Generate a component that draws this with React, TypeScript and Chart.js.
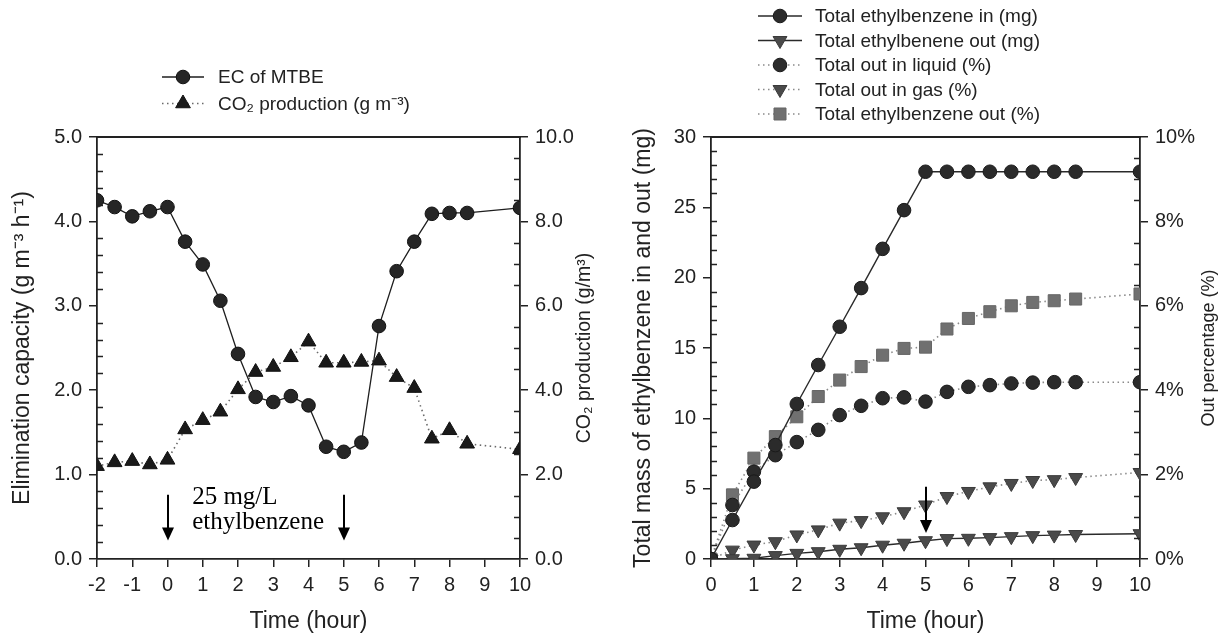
import React, { useEffect, useRef } from "react";
import { Chart, registerables } from "chart.js";
import { drawPoint } from "chart.js/helpers";

Chart.register(...registerables);

const FONT = "'Liberation Sans', Arial, Helvetica, sans-serif";
const SERIF = "'Liberation Serif', 'Times New Roman', serif";
const INK = "#222222";

// ---------- Left panel data ----------
const leftTime = [-2, -1.5, -1, -0.5, 0, 0.5, 1, 1.5, 2, 2.5, 3, 3.5, 4, 4.5, 5, 5.5, 6, 6.5, 7, 7.5, 8, 8.5, 10];
const ecMTBE = [4.25, 4.17, 4.06, 4.12, 4.17, 3.76, 3.49, 3.06, 2.43, 1.92, 1.86, 1.93, 1.82, 1.33, 1.27, 1.38, 2.76, 3.41, 3.76, 4.09, 4.1, 4.1, 4.16];
const co2Production = [2.2, 2.29, 2.32, 2.24, 2.35, 3.07, 3.29, 3.49, 4.02, 4.43, 4.55, 4.78, 5.15, 4.65, 4.65, 4.67, 4.7, 4.31, 4.05, 2.85, 3.05, 2.73, 2.6];
const leftLabels = ["EC of MTBE", "CO\u2082 production (g m\u207B\u00B3)"];
const feedArrowTimes = [0, 5];
const feedNote = ["25 mg/L", "ethylbenzene"];

// ---------- Right panel data ----------
const rightTime = [0, 0.5, 1, 1.5, 2, 2.5, 3, 3.5, 4, 4.5, 5, 5.5, 6, 6.5, 7, 7.5, 8, 8.5, 10];
const totalInMg = [0, 2.77, 5.5, 8.1, 11.02, 13.79, 16.51, 19.26, 22.05, 24.8, 27.53, 27.53, 27.53, 27.53, 27.53, 27.53, 27.53, 27.53, 27.53];
const totalOutMg = [0, 0.02, 0.05, 0.24, 0.4, 0.52, 0.69, 0.8, 0.98, 1.12, 1.3, 1.45, 1.47, 1.52, 1.59, 1.66, 1.7, 1.74, 1.8];
const outLiquidPct = [0, 1.28, 2.07, 2.46, 2.77, 3.06, 3.41, 3.63, 3.81, 3.83, 3.73, 3.96, 4.08, 4.12, 4.16, 4.18, 4.19, 4.19, 4.19];
const outGasPct = [0, 0.21, 0.33, 0.41, 0.57, 0.69, 0.85, 0.91, 1.0, 1.12, 1.28, 1.48, 1.6, 1.71, 1.79, 1.86, 1.88, 1.93, 2.05];
const outTotalPct = [0, 1.52, 2.39, 2.9, 3.37, 3.85, 4.24, 4.56, 4.83, 4.99, 5.02, 5.45, 5.7, 5.86, 6.0, 6.08, 6.12, 6.16, 6.28];
const rightLabels = [
  "Total ethylbenzene in (mg)",
  "Total ethylbenene out (mg)",
  "Total out in liquid (%)",
  "Total out in gas (%)",
  "Total ethylbenzene out (%)",
];
const rightArrowTime = 5;

const pts = (xs: number[], ys: number[]) => xs.map((x, i) => ({ x, y: ys[i] }));

// ---------- plugins ----------
const framePlugin = {
  id: "frameMinor",
  afterDraw(chart: any, _args: any, opts: any) {
    const { ctx, chartArea } = chart;
    ctx.save();
    ctx.strokeStyle = INK;
    ctx.lineWidth = 1.8;
    ctx.beginPath();
    ctx.moveTo(chartArea.left - 1, chartArea.top);
    ctx.lineTo(chartArea.right + 1, chartArea.top);
    ctx.stroke();
    ctx.lineWidth = 1.5;
    ctx.beginPath();
    for (const m of opts.minor || []) {
      const s = chart.scales[m.id];
      const n = Math.round((s.max - s.min) / m.step);
      const ratio = Math.round(m.major / m.step);
      for (let i = 0; i <= n; i++) {
        if (i % ratio === 0) continue;
        const v = s.min + i * m.step;
        const py = Math.round(s.getPixelForValue(v)) + 0.5;
        const x0 = s.position === "left" ? chartArea.left : chartArea.right;
        const dir = s.position === "left" ? 1 : -1;
        ctx.moveTo(x0, py);
        ctx.lineTo(x0 + dir * 6, py);
      }
    }
    ctx.stroke();
    // right-hand axis titles reading bottom-to-top
    for (const t of opts.rightTitles || []) {
      ctx.save();
      ctx.translate(t.x, (chartArea.top + chartArea.bottom) / 2 + (t.dy || 0));
      ctx.rotate(-Math.PI / 2);
      ctx.font = `${t.size}px ${FONT}`;
      ctx.fillStyle = INK;
      ctx.textAlign = "center";
      ctx.textBaseline = "middle";
      ctx.fillText(t.text, 0, 0);
      ctx.restore();
    }
    ctx.restore();
  },
};

const legendPlugin = {
  id: "lineLegend",
  afterDraw(chart: any, _args: any, opts: any) {
    if (!opts.items) return;
    const { ctx } = chart;
    opts.items.forEach((idx: number, i: number) => {
      const ds = chart.data.datasets[idx];
      const y = opts.y + i * opts.dy;
      ctx.save();
      ctx.strokeStyle = ds.borderColor;
      ctx.lineWidth = ds.borderWidth;
      ctx.setLineDash(ds.borderDash || []);
      ctx.beginPath();
      ctx.moveTo(opts.x - opts.half, y);
      ctx.lineTo(opts.x + opts.half, y);
      ctx.stroke();
      ctx.setLineDash([]);
      ctx.fillStyle = ds.pointBackgroundColor;
      ctx.strokeStyle = ds.pointBorderColor;
      ctx.lineWidth = 1;
      drawPoint(ctx, { pointStyle: ds.pointStyle, radius: ds.pointRadius, rotation: ds.pointRotation || 0, borderWidth: 1 } as any, opts.x, y);
      ctx.fillStyle = INK;
      ctx.font = `19px ${FONT}`;
      ctx.textBaseline = "middle";
      ctx.textAlign = "left";
      ctx.fillText(ds.label, opts.textX, y + 1);
      ctx.restore();
    });
  },
};

const arrowPlugin = {
  id: "arrows",
  afterDraw(chart: any, _args: any, opts: any) {
    if (!opts.arrows) return;
    const { ctx } = chart;
    const xs = chart.scales.x;
    const ys = chart.scales[opts.yId || "y"];
    ctx.save();
    ctx.strokeStyle = "#000";
    ctx.fillStyle = "#000";
    for (const a of opts.arrows) {
      const px = Math.round(xs.getPixelForValue(a.x));
      const y0 = ys.getPixelForValue(a.from);
      const y1 = ys.getPixelForValue(a.to);
      ctx.lineWidth = 2;
      ctx.beginPath();
      ctx.moveTo(px, y0);
      ctx.lineTo(px, y1 - 10);
      ctx.stroke();
      ctx.beginPath();
      ctx.moveTo(px - 6, y1 - 13);
      ctx.lineTo(px + 6, y1 - 13);
      ctx.lineTo(px, y1);
      ctx.closePath();
      ctx.fill();
    }
    if (opts.note) {
      ctx.font = `25px ${SERIF}`;
      ctx.textAlign = "left";
      ctx.textBaseline = "alphabetic";
      opts.note.lines.forEach((t: string, i: number) => {
        ctx.fillText(t, xs.getPixelForValue(opts.note.x), ys.getPixelForValue(opts.note.ys[i]));
      });
    }
    ctx.restore();
  },
};

const tickFont = { family: FONT, size: 20 };
const axisCommon = {
  grid: { display: true, drawOnChartArea: false, drawTicks: true, tickLength: 8, color: INK, lineWidth: 1.5 },
  border: { display: true, color: INK, width: 1.8 },
};

function xAxis(min: number, max: number) {
  return {
    type: "linear",
    position: "bottom",
    min,
    max,
    ...axisCommon,
    ticks: { stepSize: 1, font: tickFont, color: INK, padding: 6, maxRotation: 0, callback: (v: any) => String(v) },
    title: { display: true, text: "Time (hour)", font: { family: FONT, size: 23 }, color: INK, padding: { top: 0, bottom: 2 } },
    afterFit: (s: any) => {
      s.height = 78;
    },
  };
}

export default function App() {
  const leftRef = useRef<HTMLCanvasElement>(null);
  const rightRef = useRef<HTMLCanvasElement>(null);

  useEffect(() => {
    const left = new Chart(leftRef.current as HTMLCanvasElement, {
      type: "line",
      data: {
        datasets: [
          {
            label: leftLabels[0],
            data: pts(leftTime, ecMTBE),
            yAxisID: "y",
            borderColor: "#1e1e1e",
            borderWidth: 1.3,
            pointStyle: "circle",
            pointRadius: 6.8,
            pointBackgroundColor: "#262626",
            pointBorderColor: "#111",
            pointBorderWidth: 1,
          },
          {
            label: leftLabels[1],
            data: pts(leftTime, co2Production),
            yAxisID: "y1",
            borderColor: "#6a6a6a",
            borderWidth: 1.6,
            borderDash: [1.5, 3.5],
            pointStyle: "triangle",
            pointRadius: 8.5,
            pointBackgroundColor: "#1a1a1a",
            pointBorderColor: "#111",
            pointBorderWidth: 1,
          },
        ] as any,
      },
      options: {
        animation: false,
        responsive: false,
        events: [],
        layout: { padding: { top: 137, left: 0, right: 0, bottom: 0 } },
        scales: {
          x: xAxis(-2, 10),
          y: {
            type: "linear",
            position: "left",
            min: 0,
            max: 5,
            ...axisCommon,
            ticks: { stepSize: 1, font: tickFont, color: INK, padding: 7, callback: (v: any) => Number(v).toFixed(1) },
            title: {
              display: true,
              text: "Elimination capacity (g m\u207B\u00B3 h\u207B\u00B9)",
              font: { family: FONT, size: 23 },
              color: INK,
              padding: { top: 9, bottom: 0 },
            },
            afterFit: (s: any) => {
              s.width = 97;
            },
          },
          y1: {
            type: "linear",
            position: "right",
            min: 0,
            max: 10,
            ...axisCommon,
            ticks: { stepSize: 2, font: tickFont, color: INK, padding: 7, callback: (v: any) => Number(v).toFixed(1) },
            afterFit: (s: any) => {
              s.width = 80;
            },
          },
        } as any,
        plugins: {
          legend: { display: false },
          tooltip: { enabled: false },
          frameMinor: {
            minor: [
              { id: "y", step: 0.2, major: 1 },
              { id: "y1", step: 0.5, major: 2 },
            ],
            rightTitles: [{ text: "CO\u2082 production (g/m\u00B3)", x: 585, size: 19.5 }],
          },
          lineLegend: { items: [0, 1], x: 183, half: 21, y: 77, dy: 26.5, textX: 218 },
          arrows: {
            arrows: feedArrowTimes.map((t) => ({ x: t, from: 0.76, to: 0.22 })),
            note: { x: 0.7, ys: [0.65, 0.36], lines: feedNote },
          },
        } as any,
      },
      plugins: [framePlugin, legendPlugin, arrowPlugin],
    });

    const solid = "#2a2a2a";
    const dotted = "#8a8a8a";
    const right = new Chart(rightRef.current as HTMLCanvasElement, {
      type: "line",
      data: {
        datasets: [
          {
            label: rightLabels[0],
            data: pts(rightTime, totalInMg),
            yAxisID: "y",
            borderColor: solid,
            borderWidth: 1.4,
            pointStyle: "circle",
            pointRadius: 6.8,
            pointBackgroundColor: "#2b2b2b",
            pointBorderColor: "#1a1a1a",
            pointBorderWidth: 1,
          },
          {
            label: rightLabels[1],
            data: pts(rightTime, totalOutMg),
            yAxisID: "y",
            borderColor: solid,
            borderWidth: 1.4,
            pointStyle: "triangle",
            pointRotation: 180,
            pointRadius: 8,
            pointBackgroundColor: "#4a4a4a",
            pointBorderColor: "#3a3a3a",
            pointBorderWidth: 1,
          },
          {
            label: rightLabels[2],
            data: pts(rightTime, outLiquidPct),
            yAxisID: "y1",
            borderColor: dotted,
            borderWidth: 1.6,
            borderDash: [1.5, 3.5],
            pointStyle: "circle",
            pointRadius: 6.8,
            pointBackgroundColor: "#2b2b2b",
            pointBorderColor: "#1a1a1a",
            pointBorderWidth: 1,
          },
          {
            label: rightLabels[3],
            data: pts(rightTime, outGasPct),
            yAxisID: "y1",
            borderColor: dotted,
            borderWidth: 1.6,
            borderDash: [1.5, 3.5],
            pointStyle: "triangle",
            pointRotation: 180,
            pointRadius: 8,
            pointBackgroundColor: "#4a4a4a",
            pointBorderColor: "#3a3a3a",
            pointBorderWidth: 1,
          },
          {
            label: rightLabels[4],
            data: pts(rightTime, outTotalPct),
            yAxisID: "y1",
            borderColor: dotted,
            borderWidth: 1.6,
            borderDash: [1.5, 3.5],
            pointStyle: "rect",
            pointRadius: 8.5,
            pointBackgroundColor: "#707070",
            pointBorderColor: "#666",
            pointBorderWidth: 1,
          },
        ] as any,
      },
      options: {
        animation: false,
        responsive: false,
        events: [],
        layout: { padding: { top: 137, left: 0, right: 0, bottom: 0 } },
        scales: {
          x: xAxis(0, 10),
          y: {
            type: "linear",
            position: "left",
            min: 0,
            max: 30,
            ...axisCommon,
            ticks: { stepSize: 5, font: tickFont, color: INK, padding: 7, callback: (v: any) => String(v) },
            title: {
              display: true,
              text: "Total mass of ethylbenzene in and out (mg)",
              font: { family: FONT, size: 23 },
              color: INK,
              padding: { top: 30, bottom: 0 },
            },
            afterFit: (s: any) => {
              s.width = 111;
            },
          },
          y1: {
            type: "linear",
            position: "right",
            min: 0,
            max: 10,
            ...axisCommon,
            ticks: { stepSize: 2, font: tickFont, color: INK, padding: 7, callback: (v: any) => `${v}%` },
            afterFit: (s: any) => {
              s.width = 86;
            },
          },
        } as any,
        plugins: {
          legend: { display: false },
          tooltip: { enabled: false },
          frameMinor: {
            minor: [
              { id: "y", step: 1, major: 5 },
              { id: "y1", step: 0.5, major: 2 },
            ],
            rightTitles: [{ text: "Out percentage (%)", x: 609, size: 18 }],
          },
          lineLegend: { items: [0, 1, 2, 3, 4], x: 180, half: 22, y: 16, dy: 24.5, textX: 215 },
          arrows: {
            arrows: [{ x: rightArrowTime, from: 5.14, to: 1.85 }],
          },
        } as any,
      },
      plugins: [framePlugin, legendPlugin, arrowPlugin],
    });

    return () => {
      left.destroy();
      right.destroy();
    };
  }, []);

  return (
    <div style={{ position: "absolute", left: 0, top: 0, width: 1226, height: 637, background: "#fff", overflow: "hidden" }}>
      <div style={{ position: "absolute", left: 0, top: 0, width: 600, height: 637 }}>
        <canvas ref={leftRef} width={600} height={637} />
      </div>
      <div style={{ position: "absolute", left: 600, top: 0, width: 626, height: 637 }}>
        <canvas ref={rightRef} width={626} height={637} />
      </div>
    </div>
  );
}
